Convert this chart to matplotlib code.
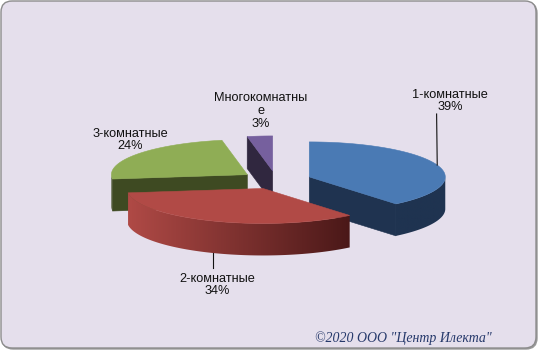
import numpy as np
import matplotlib
matplotlib.use("Agg")
import matplotlib.pyplot as plt
from matplotlib.patches import Polygon, FancyBboxPatch
from matplotlib.colors import to_rgb

# ---- data ----
categories = ["1-комнатные", "2-комнатные", "3-комнатные", "Многокомнатные"]
shares = [39, 34, 24, 3]
label_texts = ["1-комнатные\n39%", "2-комнатные\n34%", "3-комнатные\n24%", "Многокомнатны\nе\n3%"]
top_colors = ["#4a7ab4", "#b14a46", "#8fad55", "#76609e"]
side_light = ["#1f3350", "#b04a46", "#3e4a22", "#30273f"]
side_dark = ["#1f3350", "#4a1818", "#3e4a22", "#30273f"]
copyright_text = '©2020 ООО "Центр Илекта"'

# ---- layout ----
W, H = 539, 351
fig = plt.figure(figsize=(W / 100, H / 100), dpi=100)
fig.patch.set_facecolor("white")
ax = fig.add_axes([0, 0, 1, 1])
ax.set_xlim(0, W)
ax.set_ylim(H, 0)
ax.axis("off")

shadow = FancyBboxPatch((2.2, 2.2), W - 4.2, H - 4.2,
                        boxstyle="round,pad=0,rounding_size=11",
                        fc="#9a9a9a", ec="#9a9a9a", lw=1.0, zorder=0)
ax.add_patch(shadow)
frame = FancyBboxPatch((1.0, 1.0), W - 4.0, H - 4.0,
                       boxstyle="round,pad=0,rounding_size=11",
                       fc="#e5dfec", ec="#8c8c8c", lw=1.0, zorder=0.5)
ax.add_patch(frame)

cx, cy = 276, 180
rx, ry = 136, 35
depth = 32
explode = 0.26

fr = np.array(shares, dtype=float) / sum(shares)
ends = np.cumsum(fr) * 360
starts = ends - fr * 360
mids = (starts + ends) / 2


def P(apex, a):
    t = np.radians(a)
    return np.array([apex[0] + rx * np.sin(t), apex[1] - ry * np.cos(t)])


def apex_of(i):
    t = np.radians(mids[i])
    return np.array([cx + explode * rx * np.sin(t), cy - explode * ry * np.cos(t)])


order = sorted(range(len(shares)), key=lambda i: -np.cos(np.radians(mids[i])))
z = 1
for i in order:
    s, e = starts[i], ends[i]
    A = apex_of(i)
    dv = np.array([0, depth])
    # radial faces
    if np.sin(np.radians(s)) < -1e-6:
        p = P(A, s)
        ax.add_patch(Polygon([A, p, p + dv, A + dv], closed=True,
                             fc=side_light[i], ec=side_light[i], lw=0.4, zorder=z))
    if np.sin(np.radians(e)) > 1e-6:
        p = P(A, e)
        ax.add_patch(Polygon([A, p, p + dv, A + dv], closed=True,
                             fc=side_light[i], ec=side_light[i], lw=0.4, zorder=z))
    # curved outer wall (front half) with horizontal gradient
    lo, hi = max(s, 90), min(e, 270)
    if hi > lo:
        aa = np.linspace(lo, hi, 150)
        top = [P(A, a) for a in aa]
        bot = [p + dv for p in top[::-1]]
        poly = Polygon(top + bot, closed=True, fc="none", ec="none", zorder=z)
        ax.add_patch(poly)
        xs = np.array([p[0] for p in top])
        ys = np.array([p[1] for p in top])
        xmin, xmax = xs.min(), xs.max()
        ymin, ymax = ys.min(), ys.max() + depth
        c1, c2 = np.array(to_rgb(side_light[i])), np.array(to_rgb(side_dark[i]))
        tt = np.linspace(0, 1, 256)
        grad = (c1[None, :] + (c2 - c1)[None, :] * tt[:, None])[None, :, :]
        im = ax.imshow(grad, extent=(xmin - 1, xmax + 1, ymax + 1, ymin - 1),
                       aspect="auto", interpolation="bilinear", zorder=z)
        im.set_clip_path(poly)
        ax.add_patch(Polygon(top + bot, closed=True, fc="none",
                             ec=side_light[i], lw=0.0, zorder=z))
    # top face
    aa = np.linspace(s, e, 120)
    pts = [A] + [P(A, a) for a in aa]
    ax.add_patch(Polygon(pts, closed=True, fc=top_colors[i], ec=top_colors[i],
                         lw=0.4, zorder=z + 0.5))
    z += 1

ax.set_xlim(0, W)
ax.set_ylim(H, 0)

# ---- labels ----
label_pos = [(450, 101), (217, 285), (130, 140), (261, 111)]
for i, txt in enumerate(label_texts):
    ax.text(label_pos[i][0], label_pos[i][1], txt, ha="center", va="center",
            fontsize=9.2, family="Liberation Sans", color="#111111",
            linespacing=1.1, zorder=10)

# leader lines: blue (top edge at mid-angle) and red (bottom edge at mid-angle)
A0 = apex_of(0)
p = P(A0, mids[0])
ax.plot([p[0], 436.6], [p[1], 114], color="#111111", lw=0.8, zorder=10)
A1 = apex_of(1)
p = P(A1, mids[1]) + np.array([0, depth])
ax.plot([p[0], p[0]], [p[1], 268], color="#111111", lw=0.8, zorder=10)

ax.text(403, 338, copyright_text, ha="center", va="center", fontsize=10,
        family="Liberation Serif", style="italic", color="#26396b", zorder=10)

fig.savefig("out.png", dpi=100, facecolor=fig.get_facecolor())
